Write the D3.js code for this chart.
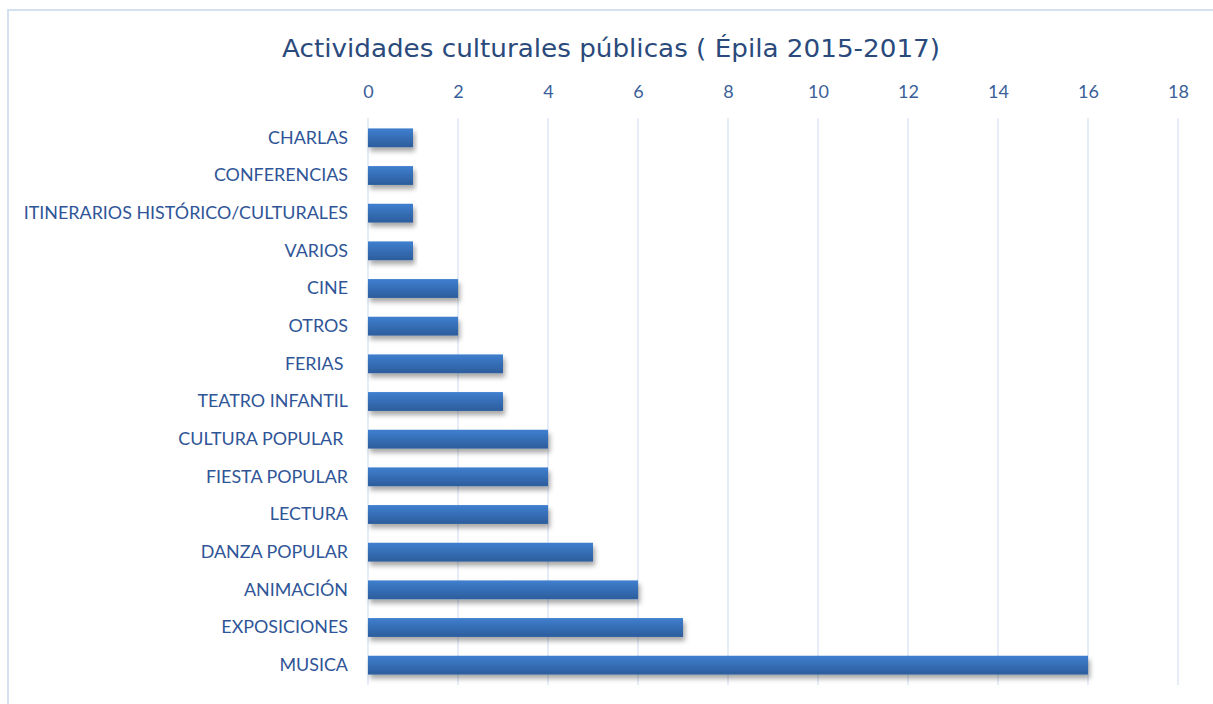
<!DOCTYPE html>
<html><head><meta charset="utf-8">
<script src="https://cdn.jsdelivr.net/npm/d3@7"></script>
<style>
body{margin:0;background:#fff;}
svg{display:block;}
text{white-space:pre;}
</style></head>
<body><svg id="c" width="1213" height="704"></svg>
<script>
const categories = ["CHARLAS","CONFERENCIAS","ITINERARIOS HISTÓRICO/CULTURALES","VARIOS","CINE","OTROS","FERIAS ","TEATRO INFANTIL","CULTURA POPULAR ","FIESTA POPULAR","LECTURA","DANZA POPULAR","ANIMACIÓN","EXPOSICIONES","MUSICA"];
const values = [1,1,1,1,2,2,3,3,4,4,4,5,6,7,16];
const ticks = [0,2,4,6,8,10,12,14,16,18];
const title = "Actividades culturales públicas ( Épila 2015-2017)";

const svg = d3.select("#c");
const W = 1213, H = 704;
const m = {left:368, right:W-1178, top:119, bottom:H-684};

// chart border
svg.append("path").attr("d","M8,704 V10 H1213").attr("fill","none").attr("stroke","#d5e1f1").attr("stroke-width",2);

const defs = svg.append("defs");
const g = defs.append("linearGradient").attr("id","bg").attr("x1",0).attr("y1",0).attr("x2",0).attr("y2",1);
g.append("stop").attr("offset","0%").attr("stop-color","#3f7fcf");
g.append("stop").attr("offset","100%").attr("stop-color","#2c5d9c");
const f = defs.append("filter").attr("id","sh").attr("x","-5%").attr("y","-30%").attr("width","115%").attr("height","190%");
f.append("feDropShadow").attr("dx",2).attr("dy",4).attr("stdDeviation",2.5).attr("flood-color","#000").attr("flood-opacity",0.35);

const x = d3.scaleLinear().domain([0,18]).range([m.left, W-m.right]);
const y = d3.scaleBand().domain(categories).range([m.top, H-m.bottom]).paddingInner(0.5).paddingOuter(0.25);

// gridlines
svg.append("g").selectAll("line").data(ticks).join("line")
  .attr("x1",d=>x(d)).attr("x2",d=>x(d)).attr("y1",118).attr("y2",685)
  .attr("stroke","#d9e4f4").attr("stroke-width",1.3);

// top axis labels
const ax = svg.append("g").attr("transform","translate(0,92)")
  .call(d3.axisTop(x).tickValues(ticks).tickSize(0).tickPadding(0));
ax.select(".domain").remove();
ax.selectAll("text").attr("font-family","Lato, 'Open Sans', sans-serif").attr("font-size",18).attr("fill","#3a5f99").attr("dy","0.35em");

// bars
svg.append("g").selectAll("rect").data(categories).join("rect")
  .attr("x",x(0)).attr("y",d=>y(d)).attr("height",y.bandwidth())
  .attr("width",(d,i)=>x(values[i])-x(0))
  .attr("fill","url(#bg)").attr("filter","url(#sh)");

// category axis
const ay = svg.append("g").attr("transform",`translate(${x(0)-20},0)`)
  .call(d3.axisLeft(y).tickSize(0).tickPadding(0));
ay.select(".domain").remove();
ay.selectAll("text").attr("font-family","Lato, 'Open Sans', sans-serif").attr("font-size",17.9).attr("fill","#2f5597").attr("xml:space","preserve");

// title
svg.append("text").attr("x",611).attr("y",57).attr("text-anchor","middle")
  .attr("font-family","'DejaVu Sans', sans-serif").attr("font-size",25)
  .attr("textLength",658).attr("lengthAdjust","spacingAndGlyphs")
  .attr("fill","#2b4a7c").text(title);
</script></body></html>
